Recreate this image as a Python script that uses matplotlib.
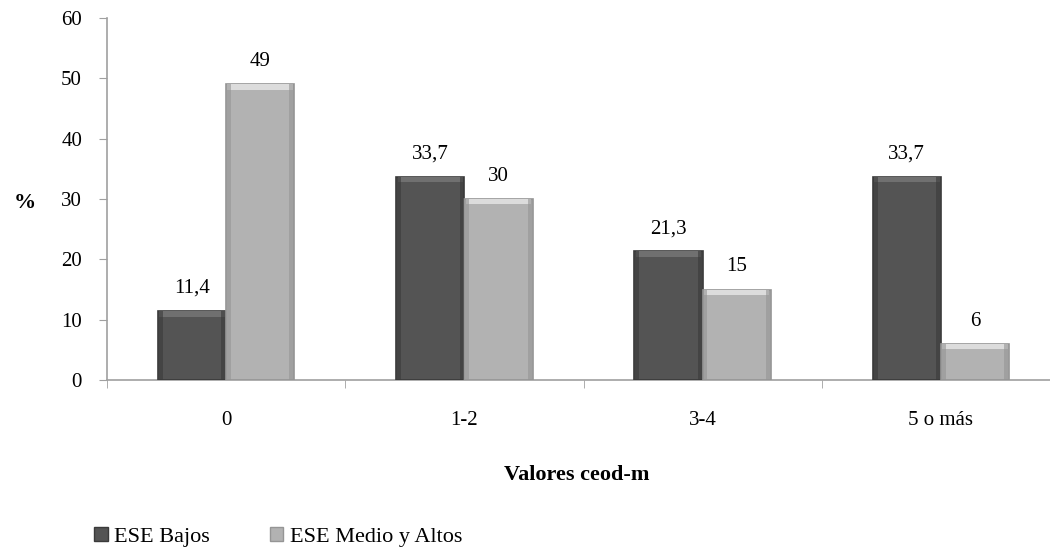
import matplotlib
matplotlib.use("Agg")
import matplotlib.pyplot as plt
import numpy as np
from matplotlib.patches import Rectangle

categories = ["0", "1-2", "3-4", "5 o más"]
series_names = ["ESE Bajos", "ESE Medio y Altos"]
bajos = [11.4, 33.7, 21.3, 33.7]
medio = [49, 30, 15, 6]
label_bajos = ["11,4", "33,7", "21,3", "33,7"]
label_medio = ["49", "30", "15", "6"]

plt.rcParams['font.family'] = ['Liberation Serif', 'DejaVu Serif']

fig = plt.figure(figsize=(10.5, 5.59), dpi=100)
ax = fig.add_axes([107/1050, 1-380/559, 953/1050, 362/559])

x = np.arange(len(categories))
w = 0.286
dark, dark_edge, dark_top = "#545454", "#3a3a3a", "#707070"
light, light_edge, light_top = "#b2b2b2", "#959595", "#dcdcdc"

def bevel_bars(xs, vals, color, edge, top):
    bars = ax.bar(xs, vals, w, color=color, edgecolor=edge, linewidth=1.2, zorder=3)
    ax.bar(xs, [0.9]*len(vals), w*0.96, bottom=[v-0.9 for v in vals],
           color=top, linewidth=0, zorder=4)
    ax.bar([xx - w*0.46 for xx in xs], vals, w*0.06, color=edge, linewidth=0, zorder=4, alpha=0.6)
    ax.bar([xx + w*0.46 for xx in xs], vals, w*0.06, color=edge, linewidth=0, zorder=4, alpha=0.6)
    return bars

bevel_bars(x - w/2, bajos, dark, dark_edge, dark_top)
bevel_bars(x + w/2, medio, light, light_edge, light_top)

for xi, v, t in zip(x - w/2, bajos, label_bajos):
    ax.text(xi, v + 2.2, t, ha='center', va='bottom', fontsize=15, color='black')
for xi, v, t in zip(x + w/2, medio, label_medio):
    ax.text(xi, v + 2.2, t, ha='center', va='bottom', fontsize=15, color='black')

ax.set_xlim(-0.5, 3.5)
ax.set_ylim(0, 60)
ax.set_yticks(range(0, 61, 10))
ax.tick_params(axis='y', labelsize=15, length=6, color='#a0a0a0', pad=12)
ax.set_xticks(x)
ax.set_xticklabels(categories, fontsize=15)
ax.tick_params(axis='x', length=0, pad=22)
ax.set_xticks(np.arange(-0.5, 4.0, 1.0), minor=True)
ax.tick_params(axis='x', which='minor', length=6, color='#a0a0a0', direction='out')

for s in ['top', 'right']:
    ax.spines[s].set_visible(False)
for s in ['left', 'bottom']:
    ax.spines[s].set_color('#a0a0a0')
    ax.spines[s].set_linewidth(1.2)

fig.text(25/1050, 1-203/559, "%", fontsize=16, fontweight='bold', ha='center', va='center')
fig.text(577/1050, 1-475/559, "Valores ceod-m", fontsize=16, fontweight='bold', ha='center', va='center')

handles = [Rectangle((0, 0), 1, 1, facecolor=dark, edgecolor=dark_edge),
           Rectangle((0, 0), 1, 1, facecolor=light, edgecolor=light_edge)]
fig.legend(handles, series_names, loc='lower left', bbox_to_anchor=(82/1050, 0.0),
           ncol=2, frameon=False, fontsize=16, handlelength=0.6, handleheight=0.6,
           handletextpad=0.3, columnspacing=2.7, borderaxespad=0.15)

fig.savefig("out.png", dpi=100)
